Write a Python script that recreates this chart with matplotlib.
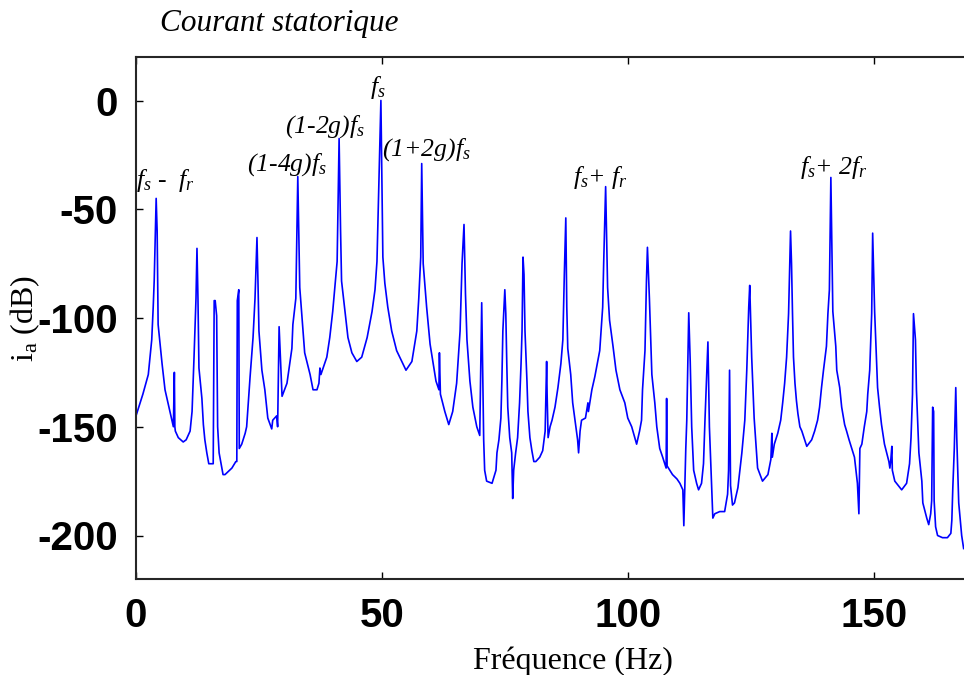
import matplotlib
matplotlib.use('Agg')
import matplotlib.pyplot as plt

plt.rcParams['mathtext.fontset'] = 'custom'
plt.rcParams['mathtext.rm'] = 'Liberation Serif'
plt.rcParams['mathtext.it'] = 'Liberation Serif:italic'
plt.rcParams['axes.unicode_minus'] = False

# spectrum (Hz, dB)
freq = [0.0, 1.4, 2.5, 3.2, 3.5, 3.7, 4.1, 4.3, 4.5, 5.3, 5.9, 6.9, 7.3, 7.6, 7.8, 7.9, 8.0, 8.6, 9.6, 10.2,
        11.0, 11.4, 11.8, 12.2, 12.4, 12.6, 12.8, 13.4, 13.7, 14.0, 14.4, 14.8, 15.7, 15.9, 16.1, 16.4, 16.6, 16.9, 17.7, 18.1,
        19.5, 20.3, 20.5, 20.6, 20.9, 21.0, 21.5, 22.2, 22.5, 23.2, 23.8, 24.2, 24.6, 24.8, 25.0, 25.6, 26.2, 26.8, 27.6, 27.8,
        28.6, 28.8, 29.1, 29.7, 30.7, 31.7, 31.9, 32.5, 32.9, 33.3, 33.9, 34.3, 35.4, 36.0, 36.8, 37.2, 37.4, 37.6, 38.8, 39.4,
        40.0, 40.9, 41.3, 41.6, 41.8, 42.5, 43.1, 43.9, 44.9, 45.9, 47.0, 48.0, 48.6, 49.0, 49.8, 50.2, 50.6, 51.2, 52.0, 53.0,
        54.9, 56.1, 57.1, 57.5, 57.9, 58.1, 58.4, 59.1, 59.8, 61.0, 61.6, 61.7, 61.9, 62.8, 63.6, 64.4, 65.2, 65.9, 66.3, 66.7,
        67.0, 67.3, 67.9, 68.5, 69.3, 69.9, 70.3, 70.7, 70.9, 71.3, 72.4, 73.2, 73.4, 73.8, 74.2, 74.4, 74.6, 75.0, 75.2, 75.4,
        75.6, 76.0, 76.4, 76.6, 76.8, 77.2, 77.6, 78.0, 78.3, 78.5, 78.7, 78.9, 79.1, 79.5, 79.7, 80.1, 80.5, 80.9, 81.3, 82.1,
        82.7, 83.2, 83.5, 83.6, 83.8, 84.2, 84.6, 85.2, 85.8, 86.4, 86.8, 87.1, 87.4, 87.6, 87.8, 88.4, 88.8, 89.4, 89.8, 90.0,
        90.3, 90.6, 91.4, 91.9, 92.0, 92.7, 93.3, 94.3, 94.9, 95.1, 95.5, 95.9, 96.3, 97.0, 97.6, 98.4, 99.4, 100.0, 100.8, 101.8,
        102.4, 102.8, 103.0, 103.5, 103.8, 104.0, 104.4, 104.9, 105.5, 105.9, 106.5, 107.1, 107.8, 107.9, 108.0, 109.1, 110.0, 110.6, 111.2, 111.4,
        111.8, 112.0, 112.4, 112.7, 113.0, 113.4, 114.0, 114.4, 115.0, 115.4, 115.7, 116.3, 116.6, 117.1, 117.3, 117.7, 118.7, 119.7, 120.3, 120.5,
        120.7, 120.9, 121.3, 121.7, 122.4, 123.2, 123.6, 123.8, 124.0, 124.2, 124.6, 124.8, 125.2, 125.4, 125.7, 126.0, 126.2, 126.4, 127.4, 128.5,
        129.1, 129.3, 129.4, 129.8, 130.5, 131.1, 131.5, 131.9, 132.3, 132.7, 133.1, 133.3, 133.5, 133.7, 134.0, 134.3, 134.6, 135.0, 135.4, 136.4,
        137.4, 138.0, 138.6, 139.0, 139.4, 139.8, 140.4, 140.7, 141.0, 141.3, 141.7, 142.3, 142.5, 143.1, 143.5, 144.1, 144.5, 145.0, 146.1, 146.7,
        147.0, 147.2, 147.6, 148.1, 148.6, 148.8, 149.2, 149.6, 149.8, 150.2, 150.6, 150.8, 151.2, 151.6, 152.2, 153.1, 153.3, 153.5, 153.7, 153.8,
        154.3, 155.7, 156.7, 157.3, 157.6, 157.9, 158.1, 158.5, 158.7, 159.0, 159.2, 159.8, 160.0, 160.8, 161.2, 161.6, 161.8, 162.0, 162.2, 162.3,
        162.6, 163.0, 164.0, 165.0, 165.7, 165.9, 166.1, 166.4, 166.7, 166.9, 167.3, 167.9, 168.3]
ia_db = [-145, -135, -126, -110, -95, -83, -45, -60, -103, -121, -133, -143, -147, -150, -125, -150, -152, -155, -157, -156,
         -152, -143, -118, -91, -68, -91, -123, -137, -149, -156, -162, -167, -167, -92, -92, -99, -150, -162, -172, -172,
         -169, -166, -166, -92, -87, -160, -158, -153, -150, -127, -109, -91, -63, -83, -106, -124, -133, -146, -151, -147,
         -145, -150, -104, -136, -130, -114, -103, -91, -35, -86, -104, -116, -126, -133, -133, -130, -123, -126, -118, -109,
         -97, -74, -17.5, -60, -83, -97, -109, -116, -120, -118, -109, -97, -87, -74, 0, -72, -84, -95, -106, -115,
         -124, -120, -106, -91, -72, -29, -75, -95, -112, -129, -133, -116, -135, -143, -149, -143, -130, -106, -75, -57,
         -89, -110, -129, -141, -150, -154, -93, -156, -170, -175, -176, -170, -162, -156, -146, -129, -106, -87, -98, -121,
         -141, -155, -162, -183, -170, -162, -155, -139, -121, -106, -72, -80, -106, -129, -143, -155, -161, -166, -166, -164,
         -161, -152, -120, -135, -155, -150, -147, -141, -132, -121, -110, -80, -54, -95, -114, -126, -139, -149, -156, -162,
         -152, -147, -146, -139, -143, -133, -127, -115, -95, -75, -39.6, -86, -101, -113, -124, -133, -139, -146, -150, -158,
         -152, -147, -133, -115, -83, -67.5, -91, -126, -139, -150, -160, -164, -169, -137, -168, -172, -174, -176, -179, -195.5,
         -160, -147, -97.6, -120, -150, -170, -176, -179, -176, -167, -147, -111, -150, -181, -192, -190, -189, -189, -181, -170,
         -124, -177, -186, -185, -178, -162, -152, -147, -135, -124, -95, -85, -118, -129, -146, -156, -162, -169, -175, -172,
         -165, -153, -164, -158, -153, -147, -139, -130, -118, -98, -60, -75, -98, -118, -130, -138, -144, -150, -152, -159,
         -156, -152, -147, -141, -132, -124, -113, -98, -87, -35.4, -97, -113, -124, -132, -141, -149, -152, -156, -164, -176,
         -190, -160, -158, -150, -143, -135, -124, -98, -61, -97, -121, -132, -141, -149, -158, -166, -169, -165, -159, -170,
         -175, -179, -176, -167, -155, -135, -98, -110, -133, -150, -162, -175, -185, -192, -195, -190, -184, -141, -143, -184,
         -196, -200, -201, -201, -199, -193, -178, -160, -132, -155, -185, -200, -206]

# harmonic labels: text, x (Hz), y (dB)
labels = [r'$f_s$ -  $f_r$', r'(1-4g)$f_s$', r'(1-2g)$f_s$', r'$f_s$', r'(1+2g)$f_s$', r'$f_s$+ $f_r$', r'$f_s$+ 2$f_r$']
label_x = [0.0, 22.6, 30.3, 47.6, 50.0, 88.8, 135.0]
label_y = [-40.0, -32.2, -14.7, 3.2, -25.3, -38.2, -33.6]

fig = plt.figure(figsize=(9.64, 6.75), dpi=100)
ax = fig.add_axes([136 / 964, 96 / 675, 836 / 964, 522 / 675])

ax.plot(freq, ia_db, color='#0000ff', linewidth=1.2)

for txt, lx, ly in zip(labels, label_x, label_y):
    ax.text(lx, ly, txt, fontsize=18.5, family='Liberation Serif', style='italic', va='baseline', ha='left')

ax.set_xlim(0, 170)
ax.set_ylim(-220, 20)
ax.set_xticks([0, 50, 100, 150])
ax.set_yticks([-200, -150, -100, -50, 0])
ax.tick_params(direction='in', length=5, width=1, top=True, right=True, pad=13)
for lab in ax.get_xticklabels() + ax.get_yticklabels():
    lab.set_family('Liberation Sans')
    lab.set_weight('bold')
    lab.set_fontsize(29)
for s in ax.spines.values():
    s.set_linewidth(1.5)
    s.set_color('#262626')

ax.set_xlabel('Fréquence (Hz)', family='Liberation Serif', fontsize=23)
ax.xaxis.set_label_coords(0.5227, -0.129)
ax.set_ylabel(r'i$_\mathrm{a}$ (dB)', family='Liberation Serif', fontsize=23)
ax.yaxis.set_label_coords(-0.113, 0.5)

fig.text(160 / 964, 1 - 24 / 675, 'Courant statorique', family='Liberation Serif', style='italic',
         fontsize=22.5, va='center', ha='left')

fig.savefig('out.png', dpi=100)
